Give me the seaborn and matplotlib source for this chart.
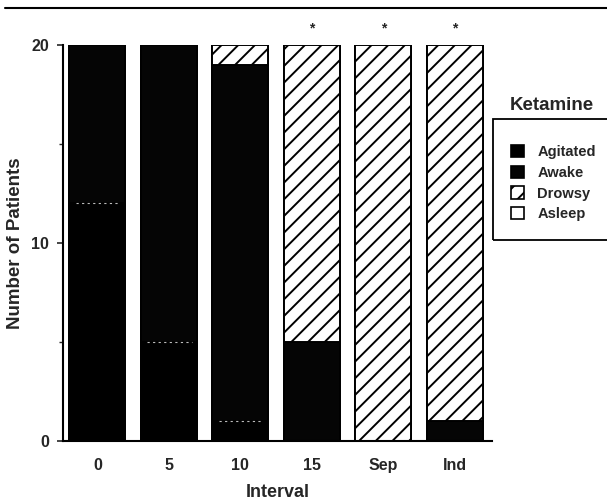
import numpy as np
import pandas as pd
import matplotlib
matplotlib.use("Agg")
import matplotlib.pyplot as plt
from matplotlib.patches import Patch, Rectangle
from matplotlib.lines import Line2D
import seaborn as sns

# data (patients per state, stacked bottom -> top)
intervals = ["0", "5", "10", "15", "Sep", "Ind"]
agitated = [12, 5, 1, 0, 0, 0]
awake = [8, 15, 18, 5, 0, 1]
drowsy = [0, 0, 1, 15, 20, 19]
asleep = [0, 0, 0, 0, 0, 0]
significant = ["15", "Sep", "Ind"]

states = ["Agitated", "Awake", "Drowsy", "Asleep"]

sns.set_theme(style="ticks")
plt.rcParams["font.family"] = ["Liberation Sans", "DejaVu Sans"]
plt.rcParams["font.weight"] = "bold"
plt.rcParams["hatch.linewidth"] = 1.4

df = pd.DataFrame({"interval": intervals, "Agitated": agitated, "Awake": awake,
                   "Drowsy": drowsy, "Asleep": asleep})
# cumulative heights so the layers can be overdrawn from the top down
cum = df[states].cumsum(axis=1)
cum["interval"] = df["interval"]

styles = {
    "Asleep": dict(color="white", hatch=None),
    "Drowsy": dict(color="white", hatch="//"),
    "Awake": dict(color="#050505", hatch=None),
    "Agitated": dict(color="black", hatch=None),
}

fig = plt.figure(figsize=(6.07, 5.04), dpi=100)
ax = fig.add_axes([63 / 607, 1 - 441 / 504, (492 - 63) / 607, (441 - 45) / 504])

for state in states[::-1]:
    st = styles[state]
    sns.barplot(data=cum, x="interval", y=state, order=intervals, color=st["color"],
                saturation=1, hatch=st["hatch"], edgecolor="black", linewidth=1.4,
                width=0.78, ax=ax)

# faint dashed seam where the agitated part meets the awake part
seam = cum[(cum["Agitated"] > 0) & (cum["Awake"] > cum["Agitated"])]
for _, row in seam.iterrows():
    i = intervals.index(row["interval"])
    ax.plot([i - 0.3, i + 0.32], [row["Agitated"]] * 2, color="#bbbbbb",
            lw=0.8, ls=(0, (2, 3)))

ax.set_xlim(-0.48, 5.52)
ax.set_ylim(0, 20)
ax.set_yticks([0, 10, 20])
ax.set_yticks([5, 15], minor=True)
ax.tick_params(axis="y", direction="out", length=4, width=1.2, labelsize=11.5, pad=6)
ax.tick_params(axis="y", which="minor", direction="out", length=3, width=1.0)
ax.tick_params(axis="x", length=0, labelsize=11.5, pad=12)
for lbl in ax.get_xticklabels() + ax.get_yticklabels():
    lbl.set_fontweight("bold")
ax.set_xlabel("Interval", fontsize=13, fontweight="bold", labelpad=8)
ax.set_ylabel("Number of Patients", fontsize=13.5, fontweight="bold", labelpad=5)
sns.despine(ax=ax)
for sp in ["left", "bottom"]:
    ax.spines[sp].set_linewidth(1.5)
    ax.spines[sp].set_color("black")

# significance markers
for c in significant:
    ax.text(intervals.index(c), 20.85, "*", ha="center", va="center",
            fontsize=10, fontweight="bold", clip_on=False)

# legend with its title sitting above a plain box
fig.text(552 / 607, 1 - 105 / 504, "Ketamine", ha="center", va="center",
         fontsize=13.5, fontweight="bold")
fig.add_artist(Rectangle((493 / 607, 1 - 240 / 504), 125 / 607, 121 / 504,
                         transform=fig.transFigure, fill=False, lw=1.3, ec="black"))
handles = [Patch(facecolor=styles[s]["color"], edgecolor="black",
                 hatch=styles[s]["hatch"], lw=1.2) for s in states]
fig.legend(handles, states, loc="upper left", bbox_to_anchor=(498 / 607, 1 - 132 / 504),
           frameon=False, prop={"weight": "bold", "size": 10.5},
           handlelength=0.9, handleheight=0.9, handletextpad=0.9, labelspacing=0.45)

# rule across the top of the page
fig.add_artist(Line2D([5 / 607, 1], [1 - 8 / 504] * 2, transform=fig.transFigure,
                      color="black", lw=1.5))

fig.savefig("out.png", dpi=100)
